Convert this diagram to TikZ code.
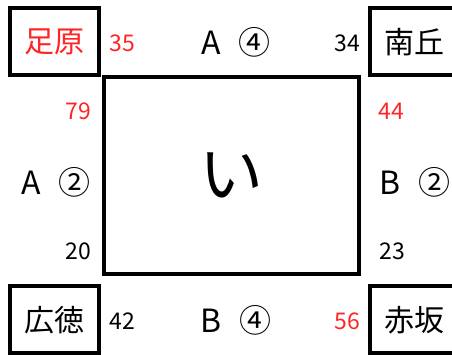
\documentclass[tikz,border=0pt]{standalone}
\usepackage{fontspec}
\setmainfont{Noto Sans CJK JP}
\usepackage{xcolor}
\usepackage{tikz}
\definecolor{numred}{HTML}{FF2525}

\begin{document}
\begin{tikzpicture}[x=1pt,y=-1pt,
	station/.style={draw,line width=4pt,minimum width=88.7pt,minimum height=66.7pt,inner sep=0pt,font=\fontsize{30}{30}\selectfont},
	line/.style={font=\fontsize{32}{32}\selectfont},
	count/.style={font=\fontsize{23}{23}\selectfont}
	]
	\useasboundingbox (0,0) rectangle (452,354);
	\clip (0,0) rectangle (452,354);
	% center
	\node[draw,line width=4pt,minimum width=255.3pt,minimum height=196.5pt,inner sep=0pt] (C) at (231.7,175.7) {\fontsize{64}{64}\selectfont い};
	% corners
	\node[station,text=numred] (NW) at (54.5,41.7) {足原};
	\node[station] (NE) at (414.3,41.7) {南丘};
	\node[station] (SW) at (54.5,319.8) {広徳};
	\node[station] (SE) at (414.3,319.8) {赤坂};
	% lines
	\node[line] (N) at (236,42) {A\hspace{0.55em}④};
	\node[line] (S) at (236,320) {B\hspace{0.55em}④};
	\node[line] (W) at (56,182) {A\hspace{0.55em}②};
	\node[line] (E) at (415,182) {B\hspace{0.55em}②};
	% counts
	\node[count,text=numred] (n35) at (122,43) {35};
	\node[count] (n34) at (347,43) {34};
	\node[count,text=numred] (n79) at (78,111) {79};
	\node[count,text=numred] (n44) at (391,111) {44};
	\node[count] (n20) at (78,251) {20};
	\node[count] (n23) at (392,251) {23};
	\node[count] (n42) at (122,321) {42};
	\node[count,text=numred] (n56) at (347,321) {56};
\end{tikzpicture}
\end{document}
